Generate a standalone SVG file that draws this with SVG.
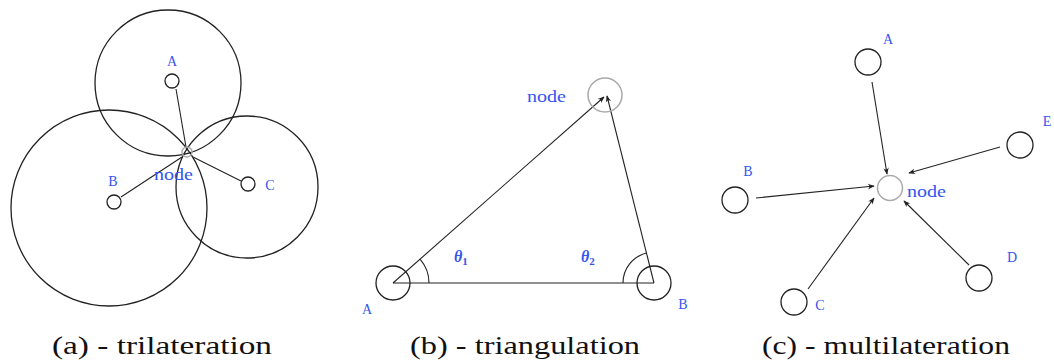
<svg xmlns="http://www.w3.org/2000/svg" width="1054" height="360" viewBox="0 0 1054 360">
<defs>
<marker id="arr" viewBox="0 0 10 10" refX="9" refY="5" markerWidth="7" markerHeight="7" markerUnits="userSpaceOnUse" orient="auto">
<path d="M0,1 Q5,5 0,9 L10,5 Z" fill="#222"/>
</marker>
<style>
.c{fill:none;stroke:#222;stroke-width:1.3}
.g{fill:none;stroke:#aaa;stroke-width:1.5}
.ln{fill:none;stroke:#222;stroke-width:1.1}
.lb{font-family:"Liberation Serif",serif;font-size:14px;fill:#3355ee}
.nd{font-family:"Liberation Serif",serif;font-size:16px;fill:#3355ee}
.th{font-family:"Liberation Serif",serif;font-size:16px;font-weight:bold;font-style:italic;fill:#3355ee}
.cap{font-family:"Liberation Serif",serif;font-size:26px;fill:#111}
</style>
</defs>
<rect width="1054" height="360" fill="#fff"/>

<!-- Panel (a) -->
<g id="a-circles">
<circle class="c" cx="168" cy="83" r="73"/>
<circle class="c" cx="109" cy="208" r="98"/>
<circle class="c" cx="247" cy="187" r="71"/>
</g>
<g id="a-connectors">
<line class="ln" x1="176" y1="89" x2="186" y2="147"/>
<line class="ln" x1="121" y1="197" x2="182" y2="157"/>
<line class="ln" x1="241" y1="181" x2="193" y2="157"/>
</g>
<g id="a-nodeA"><circle class="c" cx="172" cy="81" r="7"/><text class="lb" x="172" y="66" text-anchor="middle">A</text></g>
<g id="a-nodeB"><circle class="c" cx="114" cy="202" r="7"/><text class="lb" x="113" y="186" text-anchor="middle">B</text></g>
<g id="a-nodeC"><circle class="c" cx="248" cy="184" r="7"/><text class="lb" x="270" y="190" text-anchor="middle">C</text></g>
<g id="a-node"><circle class="g" cx="187" cy="152" r="5"/><text class="nd" x="154" y="180" textLength="39" lengthAdjust="spacingAndGlyphs">node</text></g>

<!-- Panel (b) -->
<g id="b-connectors">
<line class="ln" x1="393" y1="283" x2="654" y2="283"/>
<line class="ln" x1="393" y1="283" x2="604" y2="97" marker-end="url(#arr)"/>
<line class="ln" x1="654" y1="283" x2="607" y2="96" marker-end="url(#arr)"/>
<path class="ln" d="M420.2,259.4 A36,36 0 0 1 429,283"/>
<path class="ln" d="M623,283 A31,31 0 0 1 646.5,253"/>
</g>
<g id="b-nodeA"><circle class="c" cx="393" cy="283" r="17"/><text class="lb" x="367" y="314" text-anchor="middle">A</text></g>
<g id="b-nodeB"><circle class="c" cx="654" cy="283" r="17"/><text class="lb" x="683" y="309" text-anchor="middle">B</text></g>
<g id="b-node"><circle class="g" cx="605" cy="95" r="17"/><text class="nd" x="527" y="102" textLength="39" lengthAdjust="spacingAndGlyphs">node</text></g>
<g id="b-angles">
<text class="th" x="454" y="262">θ<tspan font-size="11" font-style="normal" dy="3">1</tspan></text>
<text class="th" x="581" y="262">θ<tspan font-size="11" font-style="normal" dy="3">2</tspan></text>
</g>

<!-- Panel (c) -->
<g id="c-connectors">
<line class="ln" x1="872" y1="82" x2="887" y2="174" marker-end="url(#arr)"/>
<line class="ln" x1="1000" y1="147" x2="909" y2="173" marker-end="url(#arr)"/>
<line class="ln" x1="756" y1="198" x2="874" y2="186" marker-end="url(#arr)"/>
<line class="ln" x1="808" y1="289" x2="874" y2="198" marker-end="url(#arr)"/>
<line class="ln" x1="969" y1="265" x2="904" y2="201" marker-end="url(#arr)"/>
</g>
<g id="c-node"><circle class="g" cx="890" cy="188" r="12.5"/><text class="nd" x="907" y="197" textLength="39" lengthAdjust="spacingAndGlyphs">node</text></g>
<g id="c-nodeA"><circle class="c" cx="868" cy="62" r="13"/><text class="lb" x="888" y="44" text-anchor="middle">A</text></g>
<g id="c-nodeE"><circle class="c" cx="1020" cy="145" r="13"/><text class="lb" x="1047" y="126" text-anchor="middle">E</text></g>
<g id="c-nodeB"><circle class="c" cx="735" cy="200" r="13"/><text class="lb" x="748" y="176" text-anchor="middle">B</text></g>
<g id="c-nodeC"><circle class="c" cx="794" cy="302" r="13"/><text class="lb" x="820" y="310" text-anchor="middle">C</text></g>
<g id="c-nodeD"><circle class="c" cx="979" cy="278" r="13"/><text class="lb" x="1012" y="262" text-anchor="middle">D</text></g>

<!-- Captions -->
<g id="captions">
<text class="cap" x="52" y="354" textLength="220" lengthAdjust="spacingAndGlyphs">(a) - trilateration</text>
<text class="cap" x="410" y="354" textLength="230" lengthAdjust="spacingAndGlyphs">(b) - triangulation</text>
<text class="cap" x="762" y="354" textLength="248" lengthAdjust="spacingAndGlyphs">(c) - multilateration</text>
</g>
</svg>
